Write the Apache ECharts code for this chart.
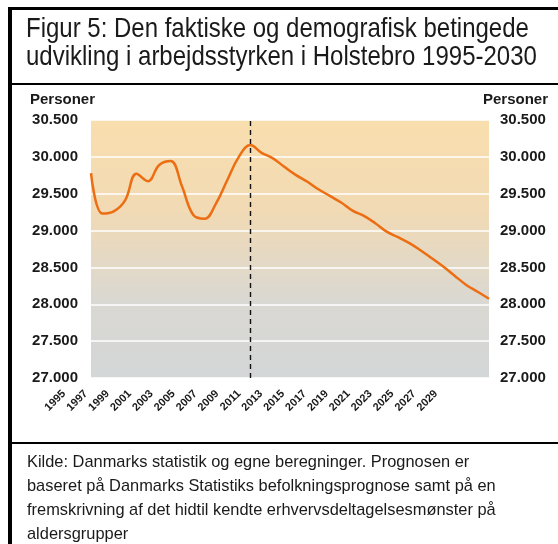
<!DOCTYPE html>
<html>
    <head>
        <meta charset="utf-8" />
        <script src="https://cdn.jsdelivr.net/npm/echarts@6/dist/echarts.min.js"></script>
        <style>
            html, body { margin: 0; padding: 0; background: #fff; }
        </style>
    </head>
    <body>
        <div id="main" style="width: 558px; height: 544px"></div>
        <script type="text/javascript">
            // data
            var years = [];
            for (var y = 1995; y <= 2030; y++) years.push(String(y));
            var arbejdsstyrke = [
                29780, 29230, 29260, 29410, 29770, 29670, 29890, 29945, 29600, 29210,
                29160, 29370, 29690, 30000, 30160, 30055, 29980, 29865, 29755, 29665,
                29560, 29470, 29380, 29270, 29200, 29100, 28985, 28910, 28830, 28730,
                28620, 28510, 28385, 28262, 28170, 28075
            ];
            var splitYear = "2009";
            var titleText = "Figur 5: Den faktiske og demografisk betingede\nudvikling i arbejdsstyrken i Holstebro 1995-2030";
            var footerText = "Kilde: Danmarks statistik og egne beregninger. Prognosen er\nbaseret på Danmarks Statistiks befolkningsprognose samt på en\nfremskrivning af det hidtil kendte erhvervsdeltagelsesmønster på\naldersgrupper";

            var sans = "'Liberation Sans', Arial, sans-serif";

            function dots(v) {
                return String(v).replace(/\B(?=(\d{3})+(?!\d))/g, ".");
            }

            var myChart = echarts.init(document.getElementById("main"));

            var yCommon = {
                type: "value",
                min: 27000,
                max: 30500,
                interval: 500,
                axisLine: { show: false },
                axisTick: { show: false },
                splitLine: { show: true, lineStyle: { color: "#ffffff", width: 1.5 } },
                axisLabel: {
                    formatter: dots,
                    color: "#1a1a1a",
                    fontWeight: "bold",
                    fontSize: 15,
                    fontFamily: sans
                }
            };

            myChart.setOption({
                animation: false,
                backgroundColor: "#ffffff",
                grid: [
                    {
                        left: 91, right: 69, top: 120, bottom: 166,
                        show: true,
                        borderWidth: 0,
                        backgroundColor: new echarts.graphic.LinearGradient(0, 0, 0, 1, [
                            { offset: 0, color: "#f9deae" },
                            { offset: 0.35, color: "#f1dab4" },
                            { offset: 0.7, color: "#dad8d2" },
                            { offset: 1, color: "#d3d6d7" }
                        ])
                    },
                    // label-only grid: the year labels in the original sit a bit left of the data points
                    { left: 64, width: 383, top: 120, bottom: 166 }
                ],
                xAxis: [
                    {
                        type: "category",
                        gridIndex: 0,
                        data: years,
                        boundaryGap: false,
                        axisLine: { show: false },
                        axisTick: { show: false },
                        axisLabel: { show: false },
                        splitLine: { show: false }
                    },
                    {
                        type: "category",
                        gridIndex: 1,
                        data: years,
                        boundaryGap: false,
                        axisLine: { show: false },
                        axisTick: { show: false },
                        splitLine: { show: false },
                        axisLabel: {
                            interval: 1,
                            rotate: 45,
                            margin: 14,
                            color: "#1a1a1a",
                            fontWeight: "bold",
                            fontSize: 11,
                            fontFamily: sans
                        }
                    }
                ],
                yAxis: [
                    Object.assign({}, yCommon, {
                        gridIndex: 0,
                        position: "left",
                        axisLabel: Object.assign({}, yCommon.axisLabel, { margin: 13 })
                    }),
                    Object.assign({}, yCommon, {
                        gridIndex: 0,
                        position: "right",
                        splitLine: { show: false },
                        axisLabel: Object.assign({}, yCommon.axisLabel, { margin: 11 })
                    }),
                    {
                        type: "value",
                        gridIndex: 1,
                        show: false,
                        splitLine: { show: false }
                    }
                ],
                series: [
                    {
                        name: "Arbejdsstyrke",
                        type: "line",
                        xAxisIndex: 0,
                        yAxisIndex: 0,
                        data: arbejdsstyrke,
                        smooth: 0.4,
                        symbol: "none",
                        lineStyle: { color: "#ec6d12", width: 2.5 },
                        markLine: {
                            silent: true,
                            symbol: "none",
                            label: { show: false },
                            lineStyle: { color: "#111", type: [5, 4], width: 1.4 },
                            data: [{ xAxis: splitYear }]
                        }
                    }
                ],
                graphic: [
                    { type: "rect", shape: { x: 8, y: 7, width: 4, height: 540 }, style: { fill: "#000" } },
                    { type: "rect", shape: { x: 8, y: 7, width: 552, height: 3 }, style: { fill: "#000" } },
                    { type: "rect", shape: { x: 12, y: 83, width: 548, height: 2 }, style: { fill: "#000" } },
                    { type: "rect", shape: { x: 12, y: 442, width: 548, height: 2 }, style: { fill: "#000" } },
                    {
                        type: "text", x: 26, y: 15, scaleX: 0.857,
                        style: { text: titleText, font: "28px " + sans, lineHeight: 28.5, fill: "#1a1a1a", align: "left", verticalAlign: "top" }
                    },
                    {
                        type: "text", left: 30, top: 92,
                        style: { text: "Personer", font: "bold 15px " + sans, fill: "#1a1a1a" }
                    },
                    {
                        type: "text", right: 10, top: 92,
                        style: { text: "Personer", font: "bold 15px " + sans, fill: "#1a1a1a" }
                    },
                    {
                        type: "text", x: 27, y: 450, scaleX: 0.965,
                        style: { text: footerText, font: "17px " + sans, lineHeight: 24, fill: "#1a1a1a", align: "left", verticalAlign: "top" }
                    }
                ]
            });
        </script>
    </body>
</html>
